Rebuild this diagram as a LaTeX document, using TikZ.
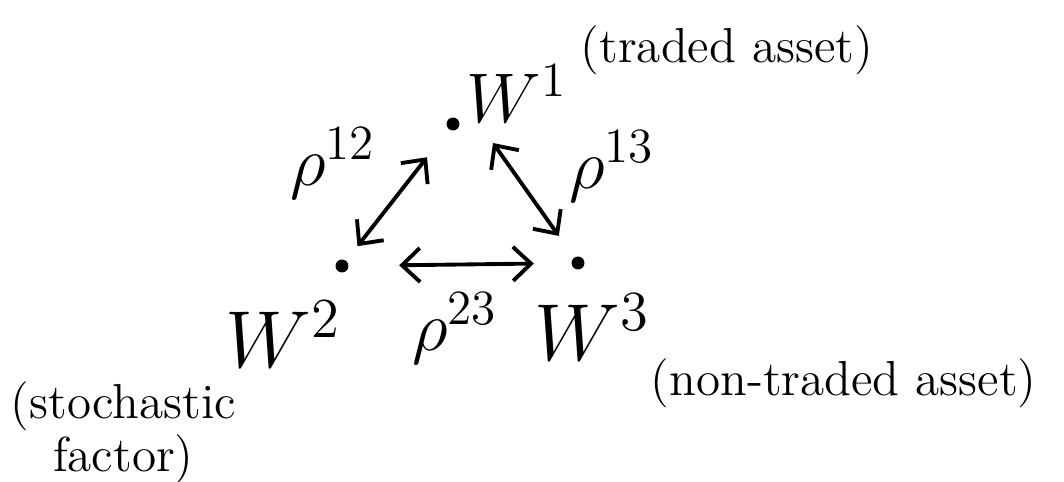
\RequirePackage{fix-cm}
\documentclass[tikz,border=0pt]{standalone}
\usepackage{amsmath}
\usepackage{tikz}
\usetikzlibrary{arrows.meta,calc}

\begin{document}
\begin{tikzpicture}[
  x=1cm,y=1cm,
  >={Straight Barb[length=1.8mm,width=3.4mm]},
  dot/.style={circle, fill, inner sep=1.3pt},
  wvar/.style={inner sep=0pt, anchor=base, font=\fontsize{23}{26}\selectfont},
  corr/.style={inner sep=0pt, anchor=base, font=\fontsize{20}{24}\selectfont},
  note/.style={inner sep=0pt, font=\fontsize{14}{11}\selectfont, align=center},
  arrow/.style={<->, line width=1.1pt, line cap=round}
]
\useasboundingbox (0,0) rectangle (10.64,4.81);

% The three Brownian motions.
\node[dot] (d1) at (4.53,3.57) {};
\node[dot] (d2) at (3.42,2.15) {};
\node[dot] (d3) at (5.78,2.18) {};
\node[wvar, font=\fontsize{20}{24}\selectfont] (w1) at (5.17,3.59) {$W^{1}$};
\node[wvar] (w2) at (2.83,1.14) {$W^{2}$};
\node[wvar] (w3) at (5.92,1.21) {$W^{3}$};

% What each one stands for.
\node[note, anchor=base west] (traded) at (5.80,4.19) {(traded asset)};
\node[note, anchor=base west] (nontraded) at (6.50,0.86) {(non-traded asset)};
\node[note, anchor=north west] (factor) at (0.10,1.00) {(stochastic\\factor)};

% Correlations.
\coordinate (c13) at (4.93,3.38);
\draw[arrow, shorten <=0.35cm, shorten >=0.18cm] (d1) -- (d2);
\draw[arrow, shorten >=0.26cm] (c13) -- (d3);
\draw[arrow, shorten <=0.50cm, shorten >=0.37cm] (d2) -- (d3);
\node[corr] (r12) at (3.33,2.96) {$\rho^{12}$};
\node[corr] (r13) at (6.12,2.93) {$\rho^{13}$};
\node[corr] (r23) at (4.55,1.31) {$\rho^{23}$};
\end{tikzpicture}
\end{document}
